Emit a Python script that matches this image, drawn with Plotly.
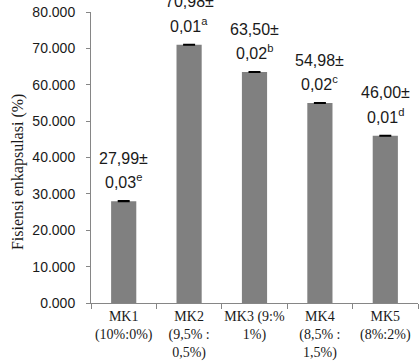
import plotly.graph_objects as go

categories = ["MK1<br>(10%:0%)", "MK2<br>(9,5% :<br>0,5%)", "MK3 (9:%<br>1%)",
              "MK4<br>(8,5% :<br>1,5%)", "MK5<br>(8%:2%)"]
values = [27.99, 70.98, 63.50, 54.98, 46.00]
errors = [0.03, 0.01, 0.02, 0.02, 0.01]
letters = ["e", "a", "b", "c", "d"]
mean_text = ["27,99±", "70,98±", "63,50±", "54,98±", "46,00±"]
sd_text = ["0,03", "0,01", "0,02", "0,02", "0,01"]
tick_vals = [0, 10, 20, 30, 40, 50, 60, 70, 80]
tick_text = ["0.000", "10.000", "20.000", "30.000", "40.000", "50.000", "60.000", "70.000", "80.000"]

fig = go.Figure()
fig.add_trace(go.Bar(
    x=categories, y=values,
    marker=dict(color="#808080", line=dict(width=0)),
    error_y=dict(type="data", array=errors, visible=True, color="black", thickness=2, width=6),
))

lab_font = dict(family="Liberation Sans, Arial, sans-serif", size=16, color="#1a1a1a")
for c, v, m, s, l in zip(categories, values, mean_text, sd_text, letters):
    fig.add_annotation(x=c, y=v, text=f"{s}<sup>{l}</sup>", showarrow=False,
                       yanchor="middle", yshift=20, font=lab_font)
    fig.add_annotation(x=c, y=v, text=m, showarrow=False,
                       yanchor="middle", yshift=43, font=lab_font)

fig.add_annotation(text="Fisiensi enkapsulasi (%)", textangle=-90, xref="paper", yref="paper",
                   x=0, y=0.45, xshift=-73, xanchor="center", yanchor="middle", showarrow=False,
                   font=dict(family="Liberation Serif, Times New Roman, serif", size=16, color="#1a1a1a"))

fig.update_layout(
    width=419, height=361,
    margin=dict(l=91, r=1, t=12, b=58),
    plot_bgcolor="white", paper_bgcolor="white",
    bargap=0.615, showlegend=False,
)
fig.update_xaxes(
    showline=True, linecolor="#868686", linewidth=1,
    ticks="outside", tickson="boundaries", ticklen=5, tickcolor="#868686",
    tickfont=dict(family="Liberation Serif, Times New Roman, serif", size=14, color="#1a1a1a"),
    tickangle=0, showgrid=False, automargin=False,
)
fig.update_yaxes(
    range=[0, 80], tickvals=tick_vals, ticktext=tick_text,
    showline=True, linecolor="#868686", linewidth=1,
    ticks="outside", ticklen=4, tickcolor="#868686",
    tickfont=dict(family="Liberation Sans, Arial, sans-serif", size=14, color="#1a1a1a"),
    showgrid=False, zeroline=False, ticklabelstandoff=8, automargin=False,
)
fig.write_html("out.html", config={"displayModeBar": False},
               post_script="document.body.style.margin='0px';document.body.style.overflow='hidden';")
